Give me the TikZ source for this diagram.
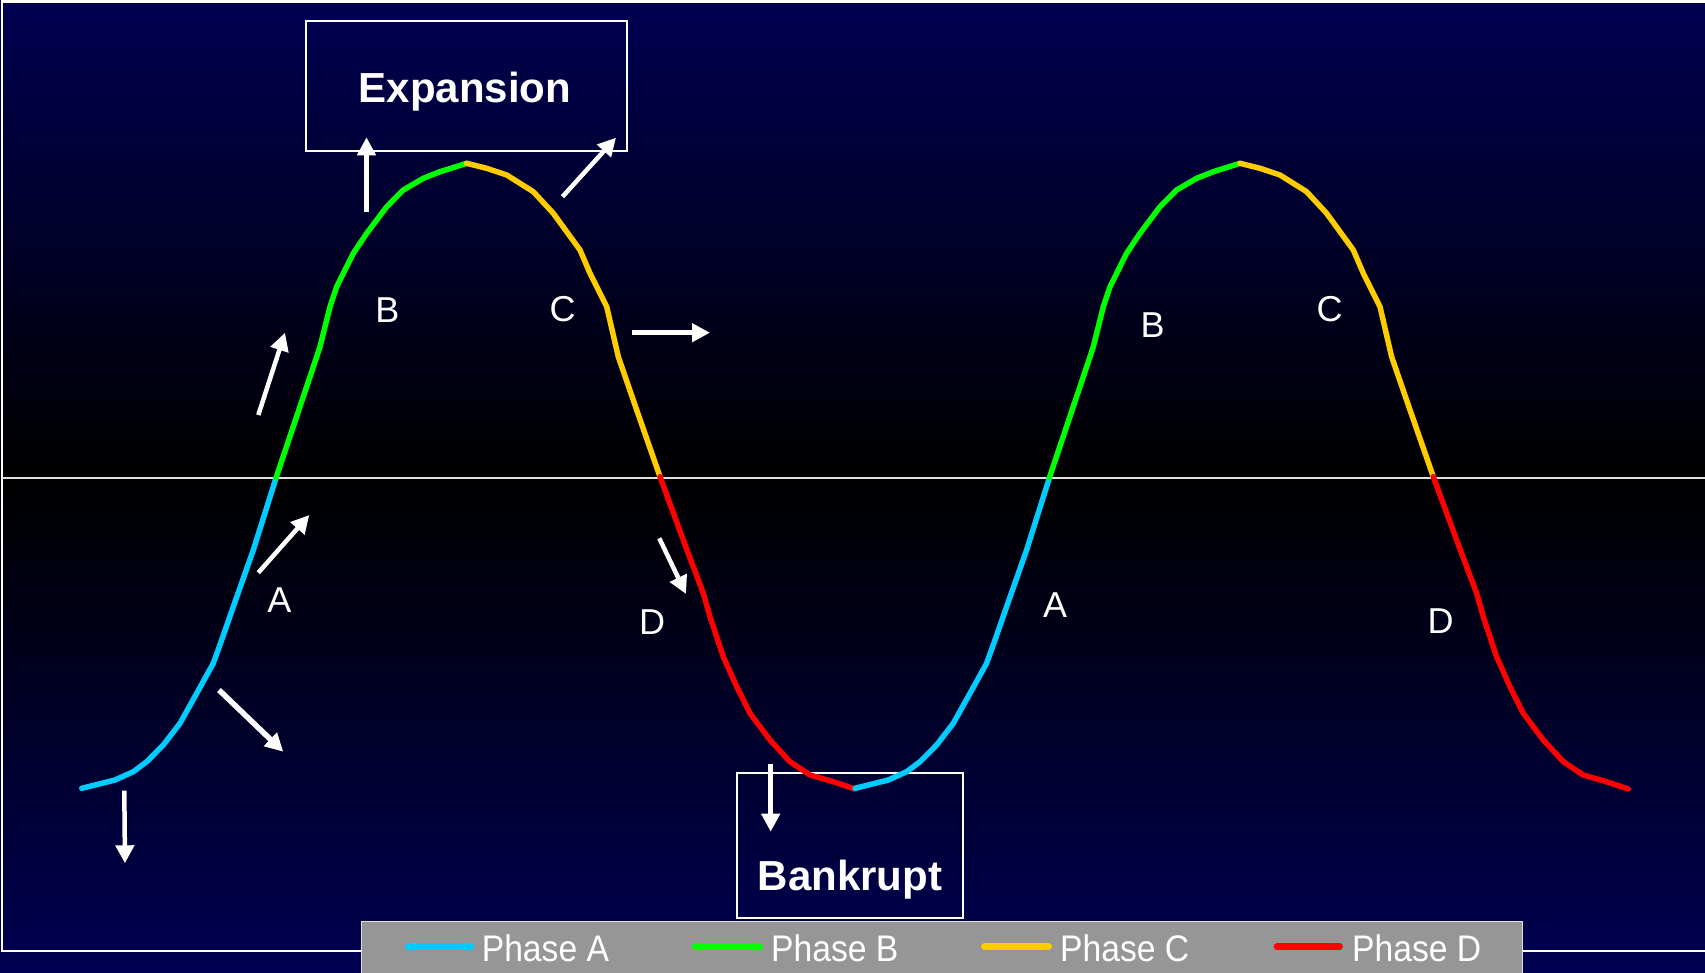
\documentclass[tikz,border=0pt]{standalone}
\usepackage{fontspec}
\setmainfont{Liberation Sans}
\usepackage{graphicx}
\usetikzlibrary{arrows.meta}
\definecolor{navy}{RGB}{0,0,82}
\definecolor{phaseA}{RGB}{0,204,255}
\definecolor{phaseB}{RGB}{0,255,0}
\definecolor{phaseC}{RGB}{255,204,0}
\definecolor{phaseD}{RGB}{255,0,0}
\definecolor{legendgray}{RGB}{150,150,150}
\definecolor{legendedge}{RGB}{225,225,225}
\definecolor{axisline}{RGB}{225,225,225}
\newcommand\cyclesegments{%
  \draw[seg, phaseA] (81.7,788.3) -- (115,780) -- (133.3,771.7) -- (146.7,761.7) -- (163.3,745) -- (180,723.3) -- (196.7,693.3) -- (213.3,663.3) -- (221.7,640) -- (233.3,606.7) -- (253.3,550) -- (276,478);
  \draw[seg, phaseB] (276,478) -- (316.7,356.7) -- (320,346.7) -- (330,306.7) -- (336.7,286.7) -- (353.3,253.3) -- (366.7,233.3) -- (386.7,206.7) -- (403.3,190) -- (423.3,178.3) -- (440,171.7) -- (466.7,163.3);
  \draw[seg, phaseC] (466.7,163.3) -- (486.7,168.3) -- (506.7,175) -- (533.3,191.7) -- (553.3,213.3) -- (580,250) -- (590,273.3) -- (606.7,306.7) -- (618.3,356.7) -- (636.7,410) -- (660,476.7);
  \draw[seg, phaseD] (660,476.7) -- (683.3,540) -- (703.3,593.3) -- (710,616.7) -- (723.3,656.7) -- (736.7,686.7) -- (750,713.3) -- (770,740) -- (790,761.7) -- (810,775) -- (833.3,781.7) -- (855,789);
}
\begin{document}
\begin{tikzpicture}[x=1pt,y=-1pt,
  seg/.style={line width=5.5pt, line join=round, line cap=round},
  arr/.style={draw=white, line width=4.5pt, -{Triangle[length=18pt,width=18pt]}},
  lab/.style={text=white, font=\fontsize{36}{40}\selectfont, inner sep=0pt, text height=26pt, text depth=0pt},
  titlebox/.style={draw=white, line width=2pt, inner sep=0pt},
  titletext/.style={text=white, font=\bfseries\fontsize{42}{48}\selectfont, inner sep=0pt, anchor=base},
  legline/.style={line width=7pt, line cap=round},
  legtext/.style={text=white, font=\fontsize{37}{42}\selectfont, inner sep=0pt, anchor=base west}]
\useasboundingbox (0,0) rectangle (1705,972);
% background
\shade[top color=navy, bottom color=black] (0,0) rectangle (1705,477.5);
\shade[top color=black, bottom color=navy] (0,477.5) rectangle (1705,972);
% frame and axis
\draw[white, line width=2.5pt] (1720,1.5) -- (2,1.5) -- (2,951) -- (1720,951);
\draw[axisline, line width=2pt] (2,477.5) -- (1705,477.5);
% boxes
\node[titlebox, minimum width=321pt, minimum height=130pt] (expbox) at (466.5,86) {};
\node[titletext] (exptext) at (465,102) {Expansion};
\node[titlebox, minimum width=226pt, minimum height=145pt] (bankbox) at (850,845.5) {};
\node[titletext] (banktext) at (850,890) {Bankrupt};
% curve
\cyclesegments
\begin{scope}[xshift=773.3pt]
\cyclesegments
\end{scope}
% phase labels
\node[lab] (A1) at (279.5,599) {A};
\node[lab] (B1) at (387.5,309.7) {B};
\node[lab] (C1) at (562.5,308) {C};
\node[lab] (D1) at (652,621) {D};
\node[lab] (A2) at (1055,604) {A};
\node[lab] (B2) at (1152.7,324.3) {B};
\node[lab] (C2) at (1329.5,308) {C};
\node[lab] (D2) at (1440.5,620) {D};
% arrows
\coordinate (u1) at (366.5,212.3); \coordinate (u2) at (366.5,137.3);
\coordinate (e1) at (562.5,196.7); \coordinate (e2) at (616,137.7);
\coordinate (b1) at (258.3,415);   \coordinate (b2) at (285,332.7);
\coordinate (c1) at (632.3,332.7); \coordinate (c2) at (710,332.7);
\coordinate (a1) at (258.3,572.7); \coordinate (a2) at (309.3,515);
\coordinate (l1) at (219,690);     \coordinate (l2) at (283.3,751.7);
\coordinate (s1) at (124.3,790.7); \coordinate (s2) at (125,863.3);
\coordinate (d1) at (659.3,538.3); \coordinate (d2) at (686,594);
\coordinate (k1) at (770.7,764.3); \coordinate (k2) at (770.7,831.7);
\draw[arr] (u1) -- (u2);
\draw[arr] (e1) -- (e2);
\draw[arr] (b1) -- (b2);
\draw[arr] (c1) -- (c2);
\draw[arr] (a1) -- (a2);
\draw[arr, line width=5.5pt] (l1) -- (l2);
\draw[arr] (s1) -- (s2);
\draw[arr] (d1) -- (d2);
\draw[arr] (k1) -- (k2);
% legend
\node[fill=legendgray, draw=legendedge, line width=1.2pt, minimum width=1161pt, minimum height=70pt, inner sep=0pt, anchor=north west] (legend) at (361,921) {};
\draw[legline, phaseA] (408.5,946.7) -- (470.5,946.7);
\node[legtext] (LA) at (481.6,961) {\scalebox{0.91}[1]{Phase A}};
\draw[legline, phaseB] (695.5,946.7) -- (759.5,946.7);
\node[legtext] (LB) at (771,961) {\scalebox{0.91}[1]{Phase B}};
\draw[legline, phaseC] (984.5,946.7) -- (1048.5,946.7);
\node[legtext] (LC) at (1060,961) {\scalebox{0.91}[1]{Phase C}};
\draw[legline, phaseD] (1277,946.7) -- (1339.5,946.7);
\node[legtext] (LD) at (1352,961) {\scalebox{0.91}[1]{Phase D}};
\end{tikzpicture}
\end{document}
